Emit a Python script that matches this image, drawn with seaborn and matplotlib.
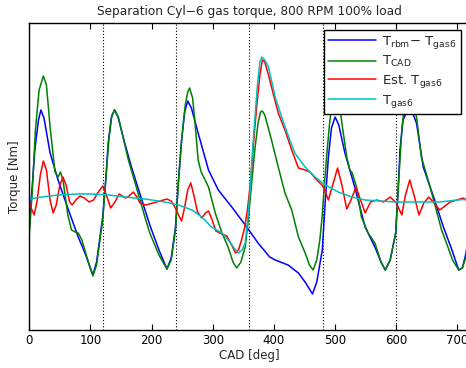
import numpy as np
import pandas as pd
import matplotlib
matplotlib.use("Agg")
import matplotlib.pyplot as plt
import seaborn as sns

# ---------------- data ----------------
cad_blue = [0, 4, 9, 15, 19, 24, 34, 47, 64, 80, 91, 98, 104, 110, 120, 125, 129, 134, 139, 145,
            156, 167, 184, 197, 212, 225, 232, 239, 244, 249, 254, 259, 265, 276, 293, 309, 331, 353,
            374, 393, 402, 423, 440, 452, 463, 470, 479, 484, 489, 494, 500, 506, 516, 532, 549, 565,
            575, 582, 590, 599, 603, 606, 611, 620, 626, 633, 644, 661, 677, 691, 702, 708, 714, 720]
trq_blue = [-560, 140, 1000, 1600, 1800, 1640, 940, 400, -200, -740, -1060, -1300, -1500, -1240, -340,
            400, 1140, 1640, 1800, 1660, 1140, 660, 0, -500, -1000, -1380, -1160, -540, 400, 1200,
            1760, 1980, 1840, 1340, 600, 200, -140, -500, -860, -1140, -1200, -1300, -1460, -1660,
            -1880, -1640, -1000, 0, 860, 1440, 1660, 1500, 940, 260, -540, -940, -1240, -1400, -1200,
            -660, 200, 1000, 1600, 1840, 1760, 1540, 660, 60, -540, -1000, -1400, -1360, -1060, -560]

cad_green = [0, 5, 10, 16, 23, 28, 34, 42, 47, 51, 55, 58, 63, 69, 75, 80, 86, 97, 104, 110, 120, 125,
             130, 135, 140, 146, 162, 173, 189, 197, 212, 225, 232, 239, 244, 249, 255, 259, 262, 267,
             271, 276, 281, 285, 293, 304, 315, 325, 333, 339, 346, 353, 358, 364, 369, 374, 378, 381,
             385, 396, 407, 418, 429, 440, 451, 458, 464, 470, 475, 479, 483, 487, 491, 496, 501, 506,
             511, 519, 524, 528, 535, 543, 554, 565, 575, 582, 590, 599, 604, 609, 614, 620, 626, 633,
             641, 652, 661, 674, 682, 692, 702, 708, 714, 720]
trq_green = [-700, 200, 1400, 2200, 2480, 2300, 1460, 560, 460, 560, 400, 140, -300, -600, -640, -660,
             -800, -1260, -1520, -1300, -400, 400, 1200, 1700, 1800, 1640, 800, 340, -340, -660, -1100,
             -1380, -1200, -600, 400, 1200, 1900, 2160, 2240, 2040, 1540, 800, 560, 460, 260, -260,
             -660, -940, -1240, -1360, -1240, -940, -400, 400, 1040, 1540, 1760, 1780, 1700, 1200, 660,
             140, -200, -740, -1060, -1300, -1400, -1200, -800, -300, 400, 1000, 1540, 2040, 2240, 2000,
             1540, 860, 600, 540, 260, -340, -660, -860, -1240, -1400, -1200, -660, 400, 1400, 2000,
             2240, 2100, 1660, 860, 400, 0, -600, -860, -1200, -1400, -1360, -1140, -700]

cad_red = [0, 3, 8, 13, 18, 23, 28, 34, 39, 44, 50, 55, 60, 66, 70, 76, 83, 90, 98, 105, 113, 120, 126,
           133, 140, 147, 157, 163, 170, 176, 181, 190, 208, 225, 232, 238, 244, 249, 254, 259, 264, 269,
           275, 282, 288, 293, 299, 305, 315, 323, 330, 337, 342, 347, 352, 357, 362, 367, 372, 377, 381,
           385, 391, 396, 407, 418, 429, 440, 451, 459, 467, 480, 489, 496, 504, 511, 519, 526, 534, 541,
           549, 558, 568, 579, 590, 600, 609, 615, 622, 629, 637, 645, 653, 662, 671, 688, 710, 720]
trq_red = [-60, -160, -300, 0, 500, 780, 600, 0, -260, -100, 300, 460, 300, -40, -100, 0, 80, 40, -40,
           0, 160, 280, 100, -160, -40, 120, 40, 80, 160, 60, -60, -100, -40, 20, -20, -140, -300, -420,
           -140, 200, 340, 100, -240, -360, -260, -220, -400, -620, -680, -720, -880, -1060, -1000,
           -800, -560, -160, 400, 1200, 1900, 2500, 2800, 2760, 2500, 2260, 1740, 1400, 1000, 640, 600,
           560, 440, 280, 0, 300, 640, 300, -180, 0, 260, 20, -260, -40, 0, -40, 60, -60, -300, 100, 400,
           100, -300, -60, 60, -60, -200, -40, 40, -60]

cad_cyan = [0, 20, 47, 80, 102, 130, 156, 189, 222, 244, 266, 282, 298, 315, 328, 336, 342, 348, 353,
            357, 361, 365, 369, 373, 377, 380, 385, 391, 402, 418, 434, 451, 467, 484, 505, 527, 549,
            573, 600, 628, 671, 700, 720]
trq_cyan = [20, 60, 100, 120, 120, 100, 60, 20, -40, -100, -200, -340, -540, -660, -840, -980, -1060,
            -1000, -860, -400, 200, 1000, 1660, 2300, 2760, 2860, 2800, 2660, 2060, 1460, 940, 660, 460,
            300, 160, 60, 0, -20, -40, -40, -40, 0, 20]

sep_lines = [120, 240, 360, 480, 600]
x_ticks = [0, 100, 200, 300, 400, 500, 600, 700]

labels = [r"T$_{\mathregular{rbm}}$$-$ T$_{\mathregular{gas6}}$",
          r"T$_{\mathregular{CAD}}$",
          r"Est. T$_{\mathregular{gas6}}$",
          r"T$_{\mathregular{gas6}}$"]
colors = ["#0000ff", "#008000", "#ff0000", "#00bfbf"]

# ---------------- plot ----------------
sns.set_theme(style="white")
plt.rcParams["font.family"] = ["DejaVu Sans"]
plt.rcParams["mathtext.default"] = "regular"

fig = plt.figure(figsize=(4.66, 3.68), dpi=100)
ax = fig.add_axes([29.3 / 466, 38 / 368, 440.4 / 466, 307 / 368])

for xv in sep_lines:
    ax.axvline(xv, color="black", linestyle=(0, (1, 1.8)), linewidth=0.8, zorder=1)

series = [(cad_blue, trq_blue), (cad_green, trq_green), (cad_red, trq_red), (cad_cyan, trq_cyan)]
for (xs, ys), lab, col in zip(series, labels, colors):
    sns.lineplot(x=xs, y=ys, ax=ax, color=col, linewidth=1.1, label=lab, sort=False, zorder=2)

ax.set_xlim(0, 720)
ax.set_ylim(-2600, 3540)
ax.set_xticks(x_ticks)
ax.set_yticks([])
ax.tick_params(axis="x", direction="in", length=4, width=0.8, top=True, bottom=True,
               labelsize=8.5, pad=3, colors="black")
for sp in ax.spines.values():
    sp.set_visible(True)
    sp.set_color("black")
    sp.set_linewidth(1.0)

ax.set_title("Separation Cyl\u22126 gas torque, 800 RPM 100% load", fontsize=8.7, pad=6)
ax.set_xlabel("CAD [deg]", fontsize=8.5, labelpad=1)
ax.set_ylabel("Torque [Nm]", fontsize=8.5, labelpad=6)

leg = ax.legend(loc="upper right", bbox_to_anchor=(460.7 / 466, 1 - 30 / 368),
                bbox_transform=fig.transFigure, borderaxespad=0, fontsize=9.5,
                handlelength=3.6, handletextpad=0.5, labelspacing=0.25, borderpad=0.3,
                fancybox=False, framealpha=1, edgecolor="black")
leg.get_frame().set_linewidth(1.0)

fig.savefig("out.png", dpi=100)
